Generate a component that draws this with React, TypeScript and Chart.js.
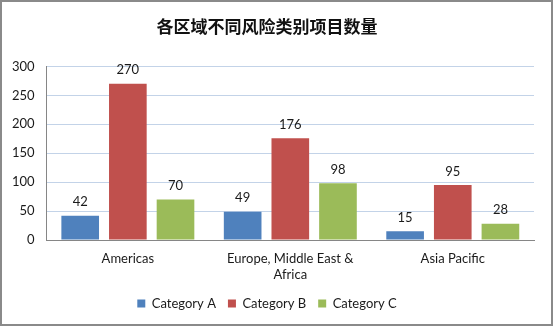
import React, { useEffect, useRef } from "react";
import { Chart, registerables } from "chart.js";

Chart.register(...registerables);

const title = "各区域不同风险类别项目数量";
const regions: (string | string[])[] = ["Americas", ["Europe, Middle East &", "Africa"], "Asia Pacific"];
const seriesNames = ["Category A", "Category B", "Category C"];
const categoryA = [42, 49, 15];
const categoryB = [270, 176, 95];
const categoryC = [70, 98, 28];
const colors = ["#4F81BD", "#C0504D", "#9BBB59"];
const yMax = 300;
const yStep = 50;

const FONT = "Lato, 'Open Sans', sans-serif";

const borderPlugin = {
  id: "outerBorder",
  afterDraw(chart: any) {
    const ctx = chart.ctx;
    ctx.save();
    ctx.strokeStyle = "#8a8a8a";
    ctx.lineWidth = 2;
    ctx.strokeRect(1, 1, chart.width - 2, chart.height - 2);
    ctx.restore();
  },
};

const labelPlugin = {
  id: "dataLabels",
  afterDatasetsDraw(chart: any) {
    const ctx = chart.ctx;
    ctx.save();
    ctx.font = `13px ${FONT}`;
    ctx.fillStyle = "#1a1a1a";
    ctx.textAlign = "center";
    ctx.textBaseline = "bottom";
    chart.data.datasets.forEach((ds: any, i: number) => {
      const meta = chart.getDatasetMeta(i);
      meta.data.forEach((bar: any, j: number) => {
        ctx.fillText(String(ds.data[j]), bar.x, bar.y - 7);
      });
    });
    ctx.restore();
  },
};

export default function App() {
  const ref = useRef<HTMLCanvasElement>(null);
  useEffect(() => {
    document.body.style.margin = "0";
    const series = [categoryA, categoryB, categoryC];
    const chart = new Chart(ref.current!, {
      type: "bar",
      data: {
        labels: regions,
        datasets: series.map((d, i) => ({
          label: seriesNames[i],
          data: d,
          backgroundColor: colors[i],
          borderWidth: 0,
          categoryPercentage: 0.88,
          barPercentage: 0.79,
        })),
      },
      options: {
        responsive: false,
        animation: false,
        layout: { padding: { left: 0, right: 19, top: 0, bottom: 6 } },
        plugins: {
          title: {
            display: true,
            text: title,
            font: { family: "'Noto Sans CJK SC', sans-serif", size: 17, weight: "bold" },
            color: "#111",
            padding: { top: 16, bottom: 30 },
          },
          legend: {
            position: "bottom",
            labels: {
              boxWidth: 8,
              boxHeight: 8,
              padding: 12,
              font: { family: FONT, size: 13 },
              color: "#1a1a1a",
            },
          },
          tooltip: { enabled: false },
        },
        scales: {
          x: {
            grid: { display: false, drawTicks: false },
            border: { color: "#868686", width: 1 },
            ticks: { font: { family: FONT, size: 13 }, color: "#1a1a1a", padding: 11, maxRotation: 0, autoSkip: false },
            afterFit: (scale: any) => {
              scale.height = 45;
            },
          },
          y: {
            min: 0,
            max: yMax,
            ticks: { stepSize: yStep, font: { family: FONT, size: 13 }, color: "#1a1a1a", padding: 12 },
            grid: { color: "#C3D3E8", drawTicks: false },
            border: { color: "#868686", width: 1 },
          },
        },
      },
      plugins: [labelPlugin, borderPlugin],
    });
    return () => chart.destroy();
  }, []);
  return <canvas ref={ref} width={553} height={326} />;
}
